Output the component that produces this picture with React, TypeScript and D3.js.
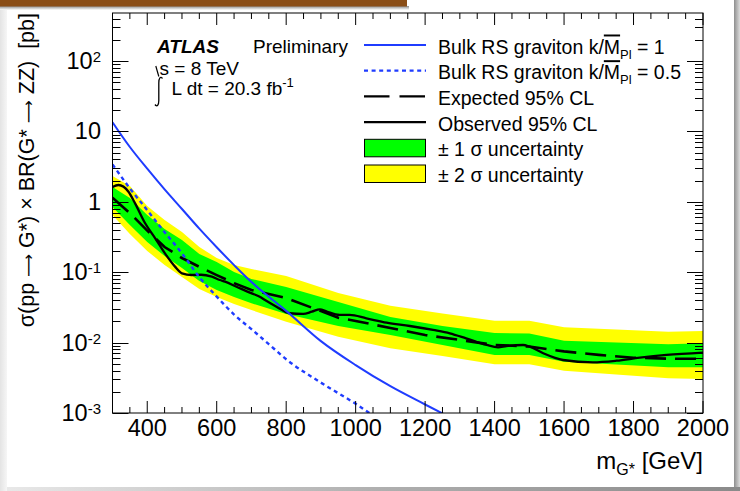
import React from 'react';
import * as d3 from 'd3';

// ---------- data ----------
const massBand = [300, 350, 400, 450, 500, 550, 600, 650, 700, 800, 950, 1100, 1250, 1400, 1500, 1600, 1750, 1900, 2000];
const twoSigmaUp = [2.33, 1.68, 0.871, 0.551, 0.372, 0.228, 0.159, 0.127, 0.111, 0.0883, 0.0506, 0.0334, 0.0259, 0.0205, 0.0205, 0.0165, 0.0154, 0.0143, 0.0146];
const oneSigmaUp = [1.62, 1.13, 0.649, 0.411, 0.287, 0.181, 0.14, 0.101, 0.08, 0.0617, 0.0377, 0.0231, 0.0172, 0.0137, 0.0135, 0.0106, 0.01, 0.0095, 0.0098];
const oneSigmaDown = [0.844, 0.468, 0.269, 0.17, 0.115, 0.075, 0.0559, 0.0444, 0.0362, 0.0255, 0.0172, 0.0128, 0.00925, 0.00667, 0.00667, 0.00535, 0.00489, 0.00446, 0.00446];
const twoSigmaDown = [0.649, 0.349, 0.2, 0.127, 0.0855, 0.0577, 0.0444, 0.0353, 0.029, 0.0198, 0.0121, 0.0083, 0.00645, 0.00492, 0.00492, 0.00399, 0.00352, 0.00311, 0.00304];

const massExp = [300, 350, 400, 450, 500, 550, 600, 650, 700, 800, 900, 950, 1000, 1100, 1200, 1300, 1400, 1500, 1600, 1700, 1800, 1900, 2000];
const expected = [1.14, 0.69, 0.39, 0.228, 0.159, 0.119, 0.091, 0.07, 0.056, 0.043, 0.028, 0.0225, 0.0203, 0.0161, 0.0128, 0.0109, 0.00925, 0.0088, 0.0075, 0.0067, 0.0061, 0.0059, 0.0059];

const massObs = [300, 317, 346, 365, 394, 423, 451, 480, 500, 528, 555, 586, 609, 624, 657, 701, 724, 739, 772, 810, 849, 874, 897, 917, 954, 983, 1031, 1089, 1156, 1223, 1271, 1318, 1377, 1410, 1434, 1482, 1501, 1540, 1597, 1683, 1751, 1818, 1895, 2000];
const observed = [1.62, 1.73, 1.39, 0.95, 0.495, 0.303, 0.185, 0.12, 0.0964, 0.0912, 0.092, 0.0863, 0.0774, 0.0733, 0.0622, 0.05, 0.0449, 0.0403, 0.0324, 0.0261, 0.0255, 0.0275, 0.0297, 0.0275, 0.0247, 0.0247, 0.0221, 0.0192, 0.0172, 0.0151, 0.01355, 0.0115, 0.00925, 0.00857, 0.00895, 0.00925, 0.00875, 0.00705, 0.00566, 0.00525, 0.00553, 0.0061, 0.00667, 0.0072];

const massK1 = [300, 350, 400, 450, 500, 550, 600, 650, 700, 750, 800, 900, 1000, 1100, 1200, 1260];
const sigmaK1 = [13.5, 6.0, 2.95, 1.5, 0.79, 0.415, 0.226, 0.126, 0.0724, 0.0447, 0.0282, 0.0105, 0.00479, 0.0024, 0.00132, 0.00093];
const massK05 = [300, 350, 400, 450, 500, 550, 600, 650, 700, 750, 800, 900, 1000, 1050];
const sigmaK05 = [3.4, 1.55, 0.76, 0.37, 0.185, 0.085, 0.045, 0.025, 0.0155, 0.0095, 0.0058, 0.0027, 0.00135, 0.00092];

const xTickLabels = [400, 600, 800, 1000, 1200, 1400, 1600, 1800, 2000];
const yDecades = [-3, -2, -1, 0, 1, 2];

const legendItems = [
  { kind: 'blue', label: 'k1' },
  { kind: 'bluedot', label: 'k05' },
  { kind: 'dash', label: 'Expected 95% CL' },
  { kind: 'solid', label: 'Observed 95% CL' },
  { kind: 'green', label: '± 1 σ uncertainty' },
  { kind: 'yellow', label: '± 2 σ uncertainty' },
];

// ---------- layout ----------
const W = 740, H = 491;
const L = 112.5, R = 703, T = 13, B = 413;
const FONT = '"Liberation Sans", Arial, Helvetica, sans-serif';
const BLUE = '#1f3cff';

const x = d3.scaleLinear().domain([300, 2000]).range([L, R]);
const y = d3.scaleLog().domain([1e-3, 480]).range([B, T]);

export default function App() {
  const bandArea = (lo: number[], hi: number[]) =>
    d3.area<number>().x((_, i) => x(massBand[i])).y0((_, i) => y(lo[i])).y1((_, i) => y(hi[i]))(massBand) || '';
  const lineOf = (ms: number[], vs: number[], curve: any = d3.curveLinear) =>
    d3.line<number>().x((_, i) => x(ms[i])).y((_, i) => y(vs[i])).curve(curve)(ms) || '';

  const xMinor = d3.range(300, 2001, 50).filter((m) => m % 200 !== 0);
  const xMajor = d3.range(400, 2001, 200);
  const yMinor: number[] = [];
  yDecades.forEach((d) => {
    for (let k = 2; k <= 9; k++) {
      const v = k * Math.pow(10, d);
      if (v <= 480) yMinor.push(v);
    }
  });

  const legX0 = 364, legX1 = 426, legTX = 438;
  const rowBase = (i: number) => 53.5 + i * 25.7;
  const ARROW = '"DejaVu Sans", sans-serif';

  return (
    <div style={{ position: 'absolute', left: 0, top: 0, width: W, height: H }}>
      <svg width={W} height={H} style={{ display: 'block', fontFamily: FONT }}>
        <defs>
          <linearGradient id="leftG" x1="0" x2="1" y1="0" y2="0">
            <stop offset="0" stopColor="#e4e4e4" />
            <stop offset="1" stopColor="#f6f6f6" />
          </linearGradient>
          <linearGradient id="rightG" x1="0" x2="1" y1="0" y2="0">
            <stop offset="0" stopColor="#8e8e8e" />
            <stop offset="1" stopColor="#dcdcdc" />
          </linearGradient>
          <linearGradient id="botG" x1="0" x2="1" y1="0" y2="0">
            <stop offset="0" stopColor="#e8e8e8" />
            <stop offset="0.5" stopColor="#b0b0b0" />
            <stop offset="1" stopColor="#8a8a8a" />
          </linearGradient>
          <linearGradient id="topShadow" x1="0" x2="0" y1="0" y2="1">
            <stop offset="0" stopColor="#8a8a8a" />
            <stop offset="1" stopColor="#ffffff" />
          </linearGradient>
          <clipPath id="plotClip">
            <rect x={L} y={T} width={R - L} height={B - T} />
          </clipPath>
        </defs>

        {/* page frame */}
        <rect x={0} y={0} width={W} height={H} fill="#f2f2f2" />
        <rect x={0} y={0} width={7} height={H} fill="url(#leftG)" />
        <rect x={7} y={0} width={727} height={487} fill="#ffffff" />
        <rect x={734} y={0} width={6} height={H} fill="url(#rightG)" />
        <rect x={7} y={487} width={733} height={4} fill="url(#botG)" />
        <rect x={0} y={6} width={409} height={4} fill="url(#topShadow)" />
        <rect x={0} y={0} width={407} height={6.5} fill="#8a4d16" />

        {/* bands and curves */}
        <g clipPath="url(#plotClip)">
          <path d={bandArea(twoSigmaDown, twoSigmaUp)} fill="#ffff00" />
          <path d={bandArea(oneSigmaDown, oneSigmaUp)} fill="#00ff00" />
          <path d={lineOf(massExp, expected)} fill="none" stroke="#000" strokeWidth={2.6} strokeDasharray="21 9" />
          <path d={lineOf(massObs, observed, d3.curveMonotoneX)} fill="none" stroke="#000" strokeWidth={2.3} />
          <path d={lineOf(massK05, sigmaK05, d3.curveMonotoneX)} fill="none" stroke={BLUE} strokeWidth={2.4} strokeDasharray="4 3.6" />
          <path d={lineOf(massK1, sigmaK1, d3.curveMonotoneX)} fill="none" stroke={BLUE} strokeWidth={2} />
        </g>

        {/* axes frame */}
        <rect x={L} y={T} width={R - L} height={B - T} fill="none" stroke="#000" strokeWidth={1} />
        {xMajor.map((m) => (
          <g key={'xM' + m}>
            <line x1={x(m)} x2={x(m)} y1={B} y2={B - 12} stroke="#000" />
            <line x1={x(m)} x2={x(m)} y1={T} y2={T + 12} stroke="#000" />
          </g>
        ))}
        {xMinor.map((m) => (
          <g key={'xm' + m}>
            <line x1={x(m)} x2={x(m)} y1={B} y2={B - 6} stroke="#000" />
            <line x1={x(m)} x2={x(m)} y1={T} y2={T + 6} stroke="#000" />
          </g>
        ))}
        {yDecades.map((d) => {
          const yy = Math.round(y(Math.pow(10, d))) + 0.5;
          return (
            <g key={'yM' + d}>
              <line x1={L} x2={L + 16} y1={yy} y2={yy} stroke="#000" />
              <line x1={R} x2={R - 16} y1={yy} y2={yy} stroke="#000" />
            </g>
          );
        })}
        {yMinor.map((v, i) => {
          const yy = Math.round(y(v)) + 0.5;
          return (
            <g key={'ym' + i}>
              <line x1={L} x2={L + 8} y1={yy} y2={yy} stroke="#000" />
              <line x1={R} x2={R - 8} y1={yy} y2={yy} stroke="#000" />
            </g>
          );
        })}

        {/* tick labels */}
        {xTickLabels.map((m) => (
          <text key={'xl' + m} x={x(m)} y={435.5} fontSize={23.5} textAnchor="middle" fill="#000">
            {m}
          </text>
        ))}
        {yDecades.map((d) => (
          <text key={'yl' + d} x={101} y={y(Math.pow(10, d)) + 8} fontSize={23.5} textAnchor="end" fill="#000">
            {d === 0 ? '1' : '10'}
            {d !== 0 && d !== 1 ? (
              <tspan fontSize={15} dy={-7}>
                {d}
              </tspan>
            ) : null}
          </text>
        ))}

        {/* axis titles */}
        <text
          transform={`translate(33.5, ${T}) rotate(-90)`}
          textAnchor="end"
          fontSize={21.5}
          fill="#000"
          style={{ whiteSpace: 'pre' }}
        >
          {'σ(pp '}
          <tspan fontFamily={ARROW} fontSize={16}>⟶</tspan>
          {' G*) × BR(G* '}
          <tspan fontFamily={ARROW} fontSize={16}>⟶</tspan>
          {' ZZ)  [pb]'}
        </text>
        <text x={R} y={469} textAnchor="end" fontSize={24} fill="#000" style={{ whiteSpace: 'pre' }}>
          m
          <tspan fontSize={16} dy={6}>
            G*
          </tspan>
          <tspan dy={-6}>{' [GeV]'}</tspan>
        </text>

        {/* ATLAS label */}
        <text x={157} y={52.7} fontSize={19} fontWeight="bold" fontStyle="italic" fill="#000">
          ATLAS
        </text>
        <text x={253} y={52.7} fontSize={19} fill="#000">
          Preliminary
        </text>
        <path d="M155.8,66 L158.8,76.5" stroke="#000" strokeWidth={1.2} fill="none" />
        <text x={159.5} y={75} fontSize={19} fill="#000">
          s = 8 TeV
        </text>
        <path d="M162.5,78.5 C160.5,76 158.8,78 158.8,83 L158.8,100.5 C158.8,106 156.8,107 155,104.5" stroke="#000" strokeWidth={1.3} fill="none" />
        <text x={171.5} y={95} fontSize={19} fill="#000">
          L dt = 20.3 fb
          <tspan fontSize={13} dy={-8}>
            -1
          </tspan>
        </text>

        {/* legend */}
        {legendItems.map((it, i) => {
          const base = rowBase(i);
          const cy = base - 8.5;
          let sym: any = null;
          if (it.kind === 'blue') sym = <line x1={legX0} x2={legX1} y1={cy} y2={cy} stroke={BLUE} strokeWidth={2} />;
          if (it.kind === 'bluedot')
            sym = <line x1={legX0} x2={legX1} y1={cy} y2={cy} stroke={BLUE} strokeWidth={2.2} strokeDasharray="4 3.6" />;
          if (it.kind === 'dash')
            sym = <line x1={legX0} x2={legX1} y1={cy} y2={cy} stroke="#000" strokeWidth={2.4} strokeDasharray="25.5 10" />;
          if (it.kind === 'solid') sym = <line x1={legX0} x2={legX1} y1={cy} y2={cy} stroke="#000" strokeWidth={2.2} />;
          if (it.kind === 'green' || it.kind === 'yellow')
            sym = (
              <rect
                x={legX0 + 0.5}
                y={cy - 8.5}
                width={legX1 - legX0 - 1}
                height={17.5}
                fill={it.kind === 'green' ? '#00ff00' : '#ffff00'}
                stroke="#000"
                strokeWidth={1}
              />
            );
          let label: any = it.label;
          if (it.label === 'k1' || it.label === 'k05')
            label = (
              <>
                {'Bulk RS graviton k/'}
                <tspan style={{ textDecoration: 'overline' }}>M</tspan>
                <tspan fontSize={13} dy={5}>
                  Pl
                </tspan>
                <tspan dy={-5}>{it.label === 'k1' ? ' = 1' : ' = 0.5'}</tspan>
              </>
            );
          return (
            <g key={'leg' + i}>
              {sym}
              <text x={legTX} y={base} fontSize={19.5} fill="#000" style={{ whiteSpace: 'pre' }}>
                {label}
              </text>
            </g>
          );
        })}
      </svg>
    </div>
  );
}
